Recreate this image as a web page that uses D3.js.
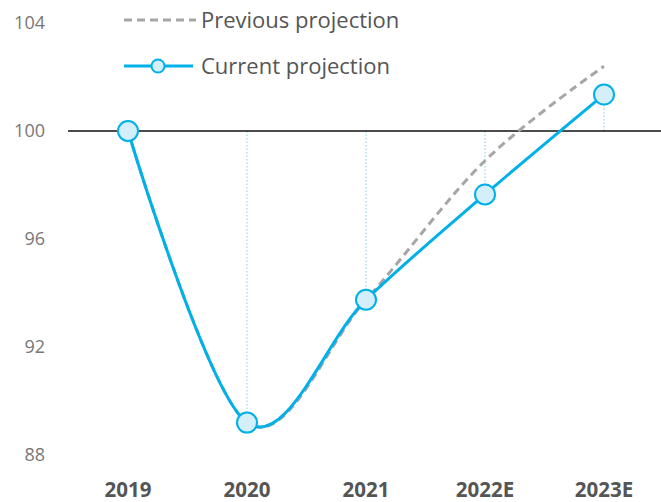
<!DOCTYPE html>
<html>
<head>
<meta charset="utf-8">
<script src="https://cdn.jsdelivr.net/npm/d3@7"></script>
<style>
  body { margin: 0; background: #fff; }
  svg text { font-family: "Open Sans", "Noto Sans", sans-serif; }
</style>
</head>
<body>
<div id="chart"></div>
<script>
// data
const years = ["2019", "2020", "2021", "2022E", "2023E"];
const current = [100, 89.2, 93.75, 97.65, 101.35];
const previous = [100, 89.2, 93.75, 98.9, 102.4];
const yTicks = [88, 92, 96, 100, 104];

const W = 661, H = 502;
const svg = d3.select("#chart").append("svg")
  .attr("width", W).attr("height", H);

const x = d3.scalePoint().domain(years).range([128, 604]);
const y = d3.scaleLinear().domain([88, 104]).range([455, 23]);

// y tick labels
svg.append("g").selectAll("text")
  .data(yTicks).enter().append("text")
  .attr("x", 45).attr("y", d => y(d))
  .attr("dy", "0.35em")
  .attr("text-anchor", "end")
  .attr("font-size", 18)
  .style("fill", "#777")
  .text(d => d);

// x labels
svg.append("g").selectAll("text")
  .data(years).enter().append("text")
  .attr("x", d => x(d)).attr("y", 497)
  .attr("text-anchor", "middle")
  .attr("font-size", 20.5)
  .attr("font-weight", "bold")
  .style("fill", "#555")
  .text(d => d);

// dotted drop lines to the 100 baseline
svg.append("g").selectAll("line")
  .data(current.map((v, i) => ({ k: years[i], v: v })).filter(d => d.v !== 100))
  .enter().append("line")
  .attr("x1", d => x(d.k)).attr("x2", d => x(d.k))
  .attr("y1", y(100)).attr("y2", d => y(d.v))
  .attr("stroke", "#a9dff4")
  .attr("stroke-width", 1.5)
  .attr("stroke-dasharray", "1.5,2");

// baseline at 100
svg.append("line")
  .attr("x1", 68).attr("x2", W)
  .attr("y1", y(100)).attr("y2", y(100))
  .attr("stroke", "#111").attr("stroke-width", 1.5);

const line = d3.line()
  .x(d => x(d.k)).y(d => y(d.v))
  .curve(d3.curveCatmullRom.alpha(0));

// previous projection (dashed), drawn under the current one
svg.append("path")
  .datum(previous.map((v, i) => ({ k: years[i], v: v })))
  .attr("d", line)
  .attr("fill", "none")
  .attr("stroke", "#a6a6a6")
  .attr("stroke-width", 3)
  .attr("stroke-dasharray", "8,5");

// current projection
const curData = current.map((v, i) => ({ k: years[i], v: v }));
svg.append("path")
  .datum(curData)
  .attr("d", line)
  .attr("fill", "none")
  .attr("stroke", "#00b0e8")
  .attr("stroke-width", 3);

svg.append("g").selectAll("circle")
  .data(curData).enter().append("circle")
  .attr("cx", d => x(d.k)).attr("cy", d => y(d.v))
  .attr("r", 10)
  .attr("fill", "#d5effa")
  .attr("stroke", "#00b0e8")
  .attr("stroke-width", 2);

// legend
const lg = svg.append("g");
lg.append("line")
  .attr("x1", 124).attr("x2", 196).attr("y1", 20).attr("y2", 20)
  .attr("stroke", "#a6a6a6").attr("stroke-width", 3)
  .attr("stroke-dasharray", "8,5");
lg.append("text")
  .attr("x", 201).attr("y", 20).attr("dy", "0.35em")
  .attr("font-size", 22).style("fill", "#555")
  .text("Previous projection");
lg.append("line")
  .attr("x1", 124).attr("x2", 193).attr("y1", 66).attr("y2", 66)
  .attr("stroke", "#00b0e8").attr("stroke-width", 3);
lg.append("circle")
  .attr("cx", 158).attr("cy", 66).attr("r", 6.5)
  .attr("fill", "#d5effa").attr("stroke", "#00b0e8").attr("stroke-width", 2);
lg.append("text")
  .attr("x", 201).attr("y", 66).attr("dy", "0.35em")
  .attr("font-size", 22).style("fill", "#555")
  .text("Current projection");
</script>
</body>
</html>
